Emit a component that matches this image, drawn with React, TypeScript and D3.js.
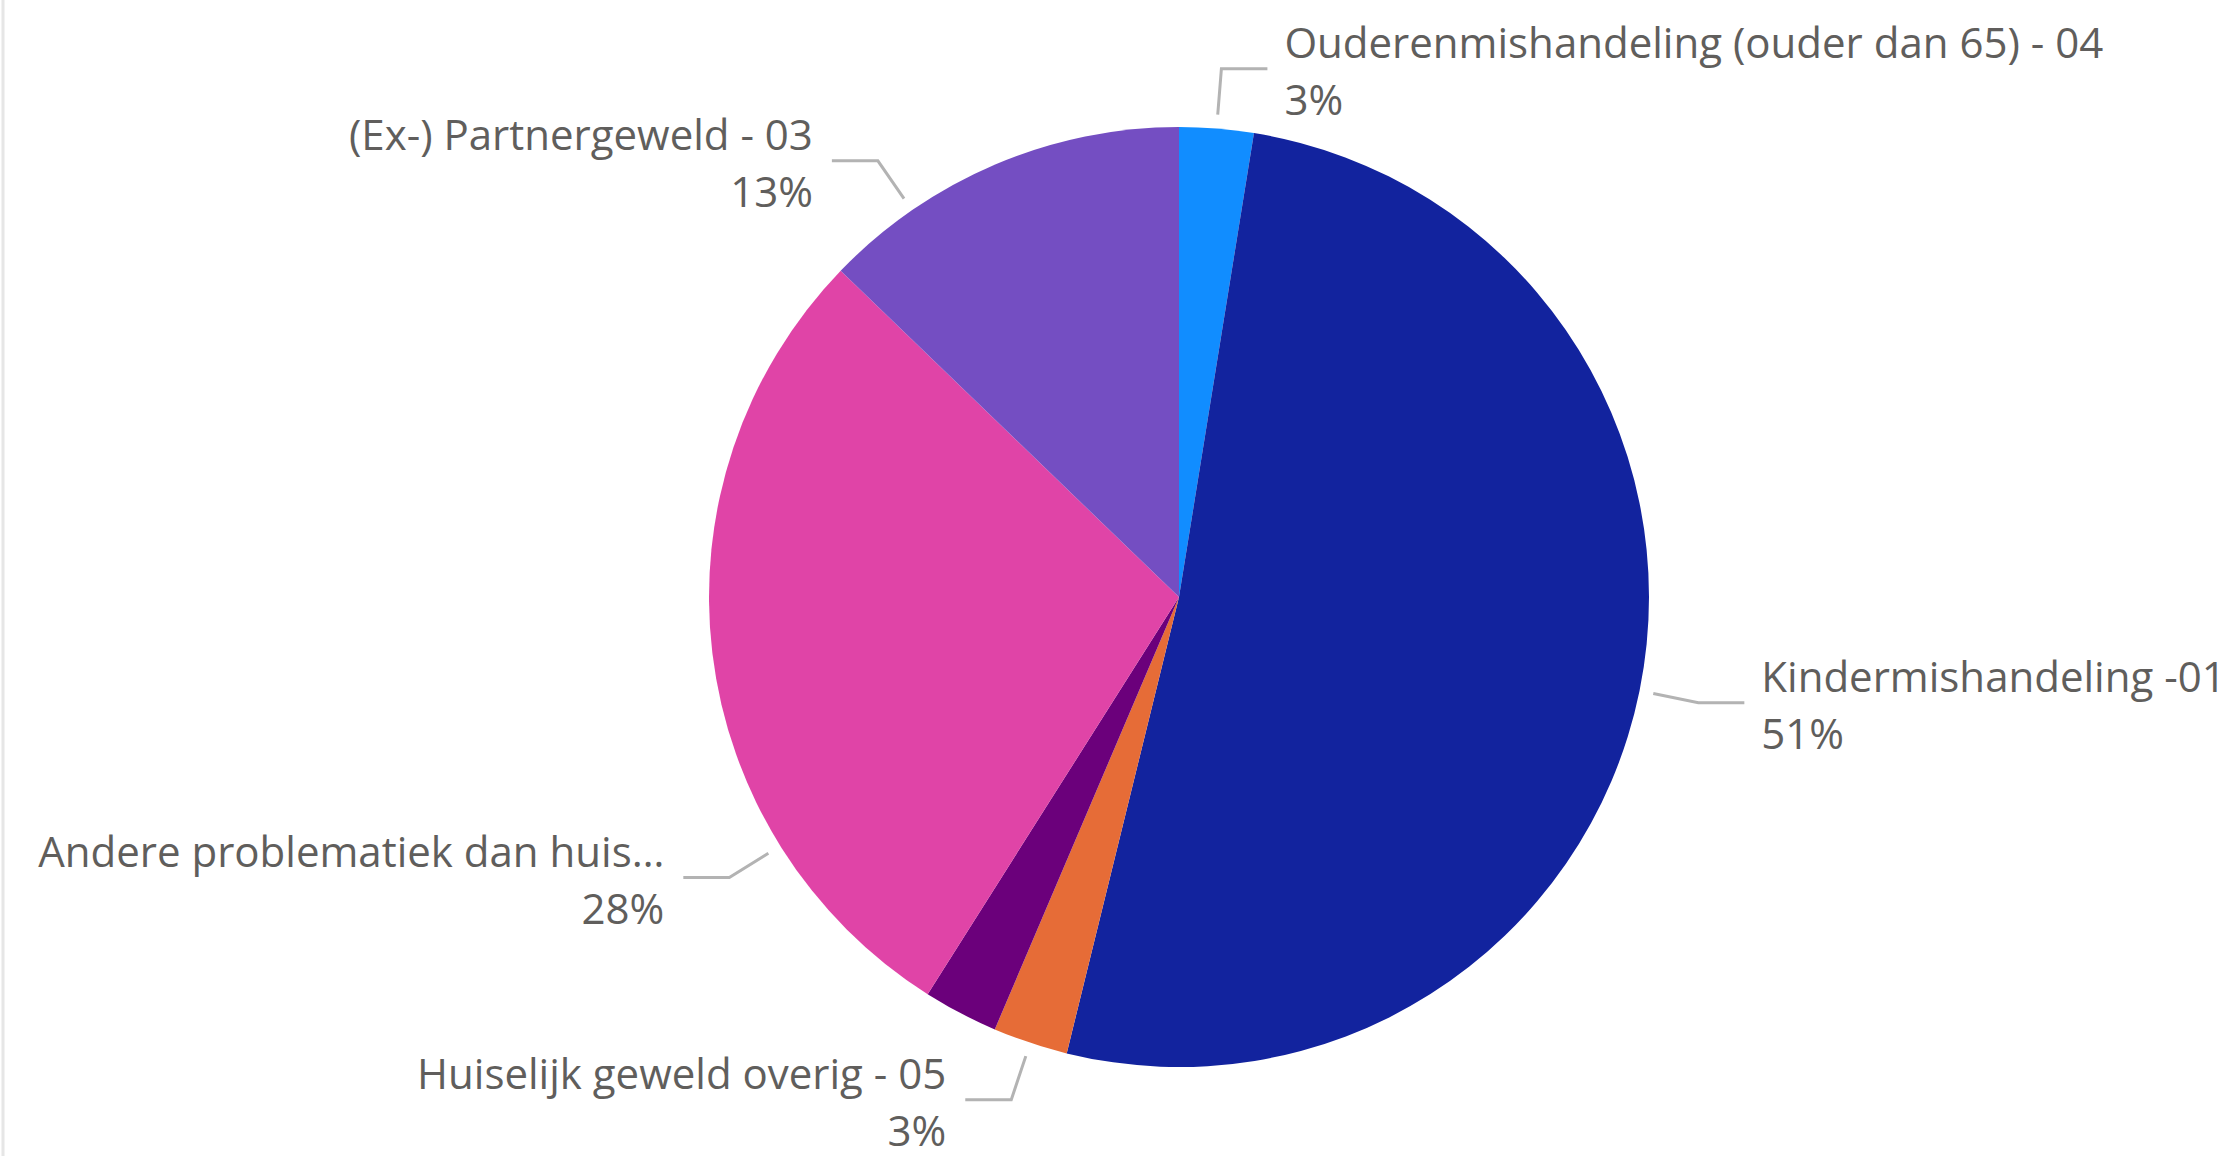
import React from "react";
import * as d3 from "d3";

const categories = [
  "Ouderenmishandeling (ouder dan 65) - 04",
  "Kindermishandeling -01",
  "Huiselijk geweld overig - 05",
  "",
  "Andere problematiek dan huis…",
  "(Ex-) Partnergeweld - 03",
];
const values = [2.55, 51.29, 2.57, 2.57, 28.23, 12.79];
const colors = ["#118DFF", "#12239E", "#E66C37", "#6B007B", "#E044A7", "#744EC2"];
const showLabel = [true, true, true, false, true, true];
// label anchor shift from slice midpoint, in degrees (layout of the reference)
const labelShiftDeg = [0, 0, 0, 0, -25.1, -11.6];

const W = 2229;
const H = 1156;
const cx = 1179;
const cy = 597;
const R = 470;
const FONT = 42;
const LINE_GAP = 57;

export default function App() {
  const total = d3.sum(values);
  const pie = d3
    .pie<number>()
    .sort(null)
    .value((d) => d)
    .startAngle(0)
    .endAngle(2 * Math.PI);
  const arcs = pie(values);
  const arcGen = d3.arc<d3.PieArcDatum<number>>().innerRadius(0).outerRadius(R);
  const startArc = d3.arc<any>().innerRadius(R + 14).outerRadius(R + 14);
  const elbowArc = d3.arc<any>().innerRadius(R + 60).outerRadius(R + 60);

  return (
    <svg
      width={W}
      height={H}
      style={{ position: "fixed", left: 0, top: 0, background: "#fff" }}
      fontFamily="'Open Sans', 'Noto Sans', sans-serif"
    >
      <rect x={0} y={0} width={W} height={H} fill="#fff" />
      <rect x={1.5} y={0} width={3} height={H} fill="#E6E6E6" />
      <g transform={`translate(${cx},${cy})`}>
        {arcs.map((a, i) => (
          <path key={i} d={arcGen(a) || ""} fill={colors[i]} />
        ))}
        {arcs.map((a, i) => {
          if (!showLabel[i]) return null;
          const mid = (a.startAngle + a.endAngle) / 2 + (labelShiftDeg[i] * Math.PI) / 180;
          const s = startArc.centroid({ startAngle: mid, endAngle: mid });
          const e = elbowArc.centroid({ startAngle: mid, endAngle: mid });
          const right = Math.sin(mid) >= 0;
          const hx = e[0] + (right ? 46 : -46);
          const tx = hx + (right ? 17 : -19);
          const pct = Math.round((values[i] / total) * 100) + "%";
          return (
            <g key={"l" + i}>
              <polyline
                points={`${s[0]},${s[1]} ${e[0]},${e[1]} ${hx},${e[1]}`}
                fill="none"
                stroke="#B3B3B3"
                strokeWidth={3}
              />
              <text
                x={tx}
                y={e[1] - LINE_GAP / 2 + 3}
                dy="0.35em"
                textAnchor={right ? "start" : "end"}
                fontSize={FONT}
                fill="#605E5C"
              >
                {categories[i]}
              </text>
              <text
                x={tx}
                y={e[1] + LINE_GAP / 2 + 3}
                dy="0.35em"
                textAnchor={right ? "start" : "end"}
                fontSize={FONT}
                fill="#605E5C"
              >
                {pct}
              </text>
            </g>
          );
        })}
      </g>
    </svg>
  );
}
